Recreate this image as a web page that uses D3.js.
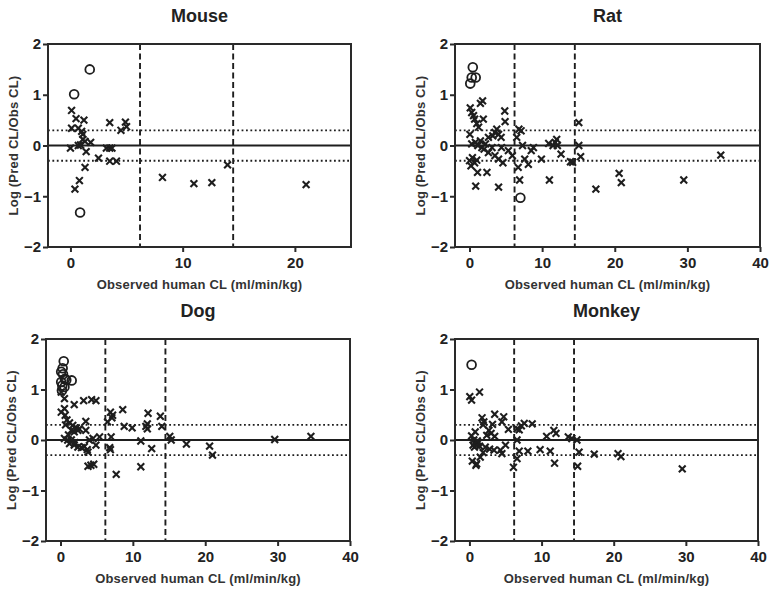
<!DOCTYPE html>
<html>
<head>
<meta charset="utf-8">
<script src="https://cdn.jsdelivr.net/npm/d3@7/dist/d3.min.js"></script>
<style>
  html, body { margin: 0; padding: 0; background: #fff; }
  svg { display: block; font-family: "Liberation Sans", Arial, Helvetica, sans-serif; }
  .tick text { font-weight: bold; font-size: 15px; fill: #222; }
  .titre { font-weight: bold; font-size: 18px; fill: #222; }
  .axe-titre { font-weight: bold; font-size: 13px; fill: #333; letter-spacing: 0.2px; }
</style>
</head>
<body>
<svg id="chart" width="776" height="592"></svg>
<script>
"use strict";

var mouseCross = [
    [0.1, 0.69], [0.5, 0.53], [1.2, 0.50], [0.1, 0.34], [0.7, 0.34], [1.1, 0.22],
    [1.0, 0.28], [1.1, 0.12], [1.3, 0.08], [1.8, 0.06], [0.0, -0.05], [0.7, 0.0],
    [0.9, 0.01], [1.4, -0.12], [2.5, -0.25], [3.2, -0.05], [3.5, -0.05], [3.7, -0.05],
    [3.5, -0.31], [4.1, -0.31], [3.5, 0.45], [4.5, 0.30], [4.9, 0.46], [5.0, 0.37],
    [1.3, -0.43], [0.8, -0.69], [0.4, -0.86], [8.2, -0.63], [11.0, -0.75], [12.6, -0.73],
    [14.0, -0.38], [21.0, -0.77]
];
var mouseCircle = [[1.72, 1.50], [0.33, 1.01], [0.86, -1.32]];

var ratCross = [
    [0.1, 0.74], [0.3, 0.65], [0.55, 0.59], [0.7, 0.52], [1.0, 0.43], [1.25, 0.36],
    [1.5, 0.83], [1.8, 0.88], [1.9, 0.52], [0.05, 0.22], [0.3, 0.03], [0.8, 0.06],
    [1.15, 0.0], [1.5, 0.09], [1.7, -0.04], [2.0, -0.07], [2.2, 0.03], [2.6, -0.14],
    [3.1, -0.04], [2.6, 0.16], [3.2, 0.19], [3.5, 0.26], [3.75, 0.32], [4.0, 0.22],
    [4.35, 0.16], [3.5, -0.2], [4.0, -0.27], [4.6, -0.34], [4.4, -0.04], [4.85, 0.68],
    [4.9, 0.47], [5.35, -0.1], [5.9, -0.2], [0.0, -0.3], [0.2, -0.4], [0.4, -0.24],
    [0.7, -0.34], [1.0, -0.29], [1.1, -0.53], [0.85, -0.8], [2.4, -0.53], [4.0, -0.82],
    [6.5, 0.16], [6.8, 0.32], [7.1, 0.29], [6.7, -0.43], [6.9, -0.68], [7.3, 0.0],
    [7.6, -0.27], [8.1, -0.37], [8.5, -0.1], [8.8, -0.04], [9.9, -0.27], [11.0, -0.68],
    [10.9, 0.04], [11.5, 0.0], [11.8, 0.06], [12.0, 0.12], [12.1, 0.0], [12.6, -0.17],
    [13.9, -0.32], [14.2, -0.33], [15.05, 0.45], [15.05, 0.0], [15.3, -0.22], [17.4, -0.86],
    [20.6, -0.55], [20.9, -0.73], [29.5, -0.68], [34.6, -0.19]
];
var ratCircle = [[0.45, 1.54], [0.3, 1.34], [0.85, 1.34], [0.1, 1.22], [7.0, -1.03]];

var dogCross = [
    [0.55, 0.82], [1.9, 0.70], [3.2, 0.78], [4.3, 0.80], [4.9, 0.78], [0.1, 0.55],
    [0.55, 0.62], [0.65, 0.49], [0.9, 0.40], [1.25, 0.34], [1.7, 0.29], [2.2, 0.24],
    [2.6, 0.22], [2.4, 0.19], [1.9, 0.16], [1.5, 0.19], [3.5, 0.37], [3.5, 0.19],
    [0.55, 0.03], [1.0, 0.0], [1.5, 0.0], [1.25, -0.07], [1.9, -0.1], [2.4, -0.14],
    [2.9, -0.15], [3.3, -0.13], [3.7, -0.19], [4.0, 0.0], [4.5, 0.03], [5.4, 0.06],
    [3.8, -0.24], [4.9, -0.1], [3.8, -0.52], [4.2, -0.5], [4.6, -0.48], [6.5, 0.36],
    [6.9, 0.55], [7.2, 0.49], [7.1, 0.44], [7.0, 0.06], [6.8, -0.15], [6.9, -0.19],
    [7.7, -0.68], [8.6, 0.60], [8.8, 0.27], [9.9, 0.24], [11.1, -0.02], [11.1, -0.53],
    [12.1, 0.53], [11.8, 0.27], [12.0, 0.22], [12.0, 0.32], [12.6, -0.17], [13.8, 0.47],
    [14.0, 0.27], [15.1, 0.07], [15.3, 0.0], [17.4, -0.08], [20.6, -0.12], [21.0, -0.3],
    [29.6, 0.01], [34.6, 0.07], [0.1, 0.95], [0.7, 0.3], [1.1, 0.1], [2.0, -0.05]
];
var dogCircle = [
    [0.45, 1.56], [0.3, 1.42], [0.1, 1.35], [0.35, 1.3], [0.6, 1.21], [0.1, 1.15],
    [0.25, 1.08], [0.8, 1.19], [1.55, 1.18], [0.55, 1.05], [0.2, 0.98]
];

var monkeyCross = [
    [0.05, 0.86], [0.3, 0.79], [1.4, 0.95], [1.75, 0.44], [2.0, 0.36], [3.5, 0.51],
    [3.2, 0.31], [4.75, 0.46], [4.5, 0.36], [2.7, 0.19], [2.4, 0.09], [3.0, 0.13],
    [5.4, 0.21], [0.8, 0.16], [0.6, 0.0], [0.8, -0.05], [1.0, -0.1], [1.2, -0.06],
    [1.4, -0.12], [0.7, -0.14], [1.1, -0.02], [0.5, -0.1], [0.4, -0.42], [0.9, -0.5],
    [1.0, -0.47], [1.5, -0.34], [2.2, -0.14], [2.8, -0.18], [3.4, -0.2], [4.3, -0.2],
    [4.5, -0.27], [5.0, -0.1], [1.9, -0.25], [6.6, 0.22], [6.9, 0.2], [7.2, 0.28],
    [7.6, 0.33], [8.7, 0.32], [6.6, 0.0], [6.9, -0.22], [6.6, -0.37], [6.1, -0.54],
    [8.1, -0.22], [9.8, -0.19], [11.2, -0.22], [11.8, -0.46], [10.7, 0.07], [11.7, 0.19],
    [12.0, 0.13], [13.7, 0.06], [14.2, 0.03], [14.9, 0.0], [15.2, -0.24], [15.0, -0.52],
    [17.3, -0.28], [20.6, -0.27], [21.0, -0.33], [29.5, -0.57], [3.5, 0.07], [0.3, 0.08],
    [1.9, 0.3]
];
var monkeyCircle = [[0.3, 1.49]];

var xTicksMouse = [0, 10, 20];
var xTicksOther = [0, 10, 20, 30, 40];
var yTicks = [-2, -1, 0, 1, 2];
var dashedX = [6.2, 14.5];      // lignes verticales en tirets
var dottedY = [-0.3, 0.3];      // limites +/- 2 fois

var xLabel = "Observed human CL (ml/min/kg)";
var yLabel = "Log (Pred CL/Obs CL)";

// position de chaque cadre dans la page
var panneaux = [
    { titre: "Mouse",  croix: mouseCross,  cercles: mouseCircle,  xMax: 25, ticks: xTicksMouse, l: 48,  t: 44,  r: 351, b: 247 },
    { titre: "Rat",    croix: ratCross,    cercles: ratCircle,    xMax: 40, ticks: xTicksOther, l: 455, t: 44,  r: 760, b: 247 },
    { titre: "Dog",    croix: dogCross,    cercles: dogCircle,    xMax: 40, ticks: xTicksOther, l: 46,  t: 339, r: 350, b: 541 },
    { titre: "Monkey", croix: monkeyCross, cercles: monkeyCircle, xMax: 40, ticks: xTicksOther, l: 455, t: 339, r: 758, b: 541 }
];

var svg = d3.select("#chart");
var ink = "#1e1e1e";

panneaux.forEach(function(p) {
    var x = d3.scaleLinear().domain([-2, p.xMax]).range([p.l, p.r]);
    var y = d3.scaleLinear().domain([-2, 2]).range([p.b, p.t]);
    var g = svg.append("g");

    // titre du panneau
    g.append("text").attr("class", "titre")
        .attr("x", (p.l + p.r) / 2).attr("y", p.t - 22)
        .attr("text-anchor", "middle").text(p.titre);

    // lignes de reference
    g.selectAll(".pointille").data(dottedY).enter().append("line")
        .attr("x1", p.l).attr("x2", p.r)
        .attr("y1", function(d) { return y(d); }).attr("y2", function(d) { return y(d); })
        .attr("stroke", ink).attr("stroke-width", 1.8).attr("stroke-dasharray", "1.8 2.6");

    g.selectAll(".tiret").data(dashedX).enter().append("line")
        .attr("x1", function(d) { return x(d); }).attr("x2", function(d) { return x(d); })
        .attr("y1", p.t).attr("y2", p.b)
        .attr("stroke", ink).attr("stroke-width", 1.9).attr("stroke-dasharray", "6 3.5");

    g.append("line")
        .attr("x1", p.l).attr("x2", p.r).attr("y1", y(0)).attr("y2", y(0))
        .attr("stroke", ink).attr("stroke-width", 2);

    // points
    g.selectAll(".croix").data(p.croix).enter().append("path")
        .attr("transform", function(d) { return "translate(" + x(d[0]) + "," + y(d[1]) + ")"; })
        .attr("d", "M-3.4,-3.4L3.4,3.4M-3.4,3.4L3.4,-3.4")
        .attr("fill", "none").attr("stroke", ink).attr("stroke-width", 2.1);

    g.selectAll(".cercle").data(p.cercles).enter().append("circle")
        .attr("cx", function(d) { return x(d[0]); }).attr("cy", function(d) { return y(d[1]); })
        .attr("r", 4.4).attr("fill", "none").attr("stroke", ink).attr("stroke-width", 1.8);

    // cadre
    g.append("rect")
        .attr("x", p.l).attr("y", p.t).attr("width", p.r - p.l).attr("height", p.b - p.t)
        .attr("fill", "none").attr("stroke", "#2a2a2a").attr("stroke-width", 2);

    // axes
    var axeX = g.append("g").attr("transform", "translate(0," + p.b + ")")
        .call(d3.axisBottom(x).tickValues(p.ticks).tickSize(5).tickPadding(5).tickFormat(d3.format("d")));
    var axeY = g.append("g").attr("transform", "translate(" + p.l + ",0)")
        .call(d3.axisLeft(y).tickValues(yTicks).tickSize(5).tickPadding(2).tickFormat(d3.format("d")));
    [axeX, axeY].forEach(function(a) {
        a.select(".domain").remove();
        a.selectAll(".tick line").attr("stroke", "#2a2a2a").attr("stroke-width", 2);
        a.attr("font-family", null).attr("font-size", null);
    });

    // titres des axes
    g.append("text").attr("class", "axe-titre")
        .attr("x", (p.l + p.r) / 2).attr("y", p.b + 41.5)
        .attr("text-anchor", "middle").text(xLabel);
    g.append("text").attr("class", "axe-titre")
        .attr("transform", "translate(" + (p.l - 30) + "," + ((p.t + p.b) / 2) + ") rotate(-90)")
        .attr("text-anchor", "middle").text(yLabel);
});
</script>
</body>
</html>
